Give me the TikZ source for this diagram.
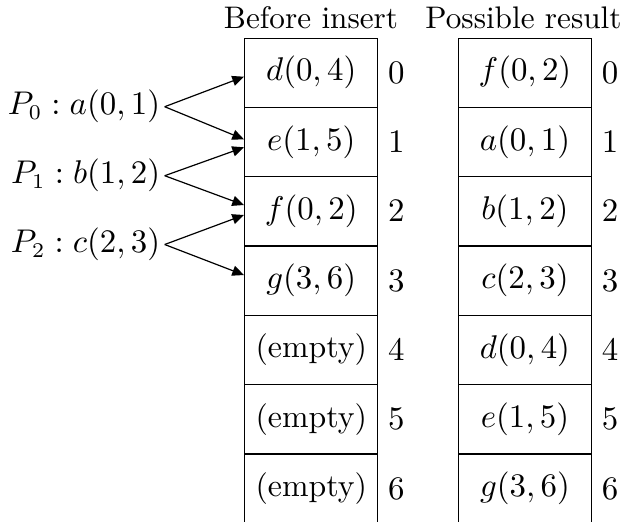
\documentclass[tikz,border=0pt]{standalone}
\usetikzlibrary{arrows.meta}
\begin{document}
\begin{tikzpicture}[x=0.33333pt,y=-0.33333pt,
  font=\fontsize{10.6}{12.7}\selectfont,
  cell/.style={draw, line width=0.4pt, minimum width=44.43pt, minimum height=23.1pt, inner sep=0pt, anchor=north west},
  idx/.style={anchor=west, inner sep=3.0pt},
  lab/.style={anchor=east, inner sep=1.33pt},
  title/.style={anchor=base, inner sep=0pt},
  arr/.style={-{Triangle[length=3.9pt,width=3.4pt]}, line width=0.4pt}]
\useasboundingbox (0,0) rectangle (623,521);
\clip (0,0) rectangle (623,521);
% titles
\node[title,font=\fontsize{10.4}{12.5}\selectfont] (T1) at (311,28) {Before insert};
\node[title,font=\fontsize{10.4}{12.5}\selectfont] (T2) at (523.5,28) {Possible result};
% left array
\node[cell] (L0) at (244,37.5) {$d(0,4)$};
\node[cell] (L1) at (244,106.8) {$e(1,5)$};
\node[cell] (L2) at (244,176.1) {$f(0,2)$};
\node[cell] (L3) at (244,245.4) {$g(3,6)$};
\node[cell] (L4) at (244,314.7) {(empty)};
\node[cell] (L5) at (244,384.0) {(empty)};
\node[cell] (L6) at (244,453.3) {(empty)};
% right array
\node[cell] (R0) at (457.7,37.5) {$f(0,2)$};
\node[cell] (R1) at (457.7,106.8) {$a(0,1)$};
\node[cell] (R2) at (457.7,176.1) {$b(1,2)$};
\node[cell] (R3) at (457.7,245.4) {$c(2,3)$};
\node[cell] (R4) at (457.7,314.7) {$d(0,4)$};
\node[cell] (R5) at (457.7,384.0) {$e(1,5)$};
\node[cell] (R6) at (457.7,453.3) {$g(3,6)$};
% indices
\foreach \i in {0,...,6} {
  \node[idx] (LI\i) at (L\i.east) {$\i$};
  \node[idx] (RI\i) at (R\i.east) {$\i$};
}
% labels
\node[lab] (P0) at (164.7,106.7) {$P_0 : a(0,1)$};
\node[lab] (P1) at (164.7,175.7) {$P_1 : b(1,2)$};
\node[lab] (P2) at (164.7,244.5) {$P_2 : c(2,3)$};
% arrow tips
\coordinate (a0) at (244,76.7);
\coordinate (a1) at (244,139.3);
\coordinate (b0) at (244,147.3);
\coordinate (b1) at (244,205);
\coordinate (c0) at (244,215);
\coordinate (c1) at (244,275);
\draw[arr] (P0.east) -- (a0);
\draw[arr] (P0.east) -- (a1);
\draw[arr] (P1.east) -- (b0);
\draw[arr] (P1.east) -- (b1);
\draw[arr] (P2.east) -- (c0);
\draw[arr] (P2.east) -- (c1);
\end{tikzpicture}
\end{document}
